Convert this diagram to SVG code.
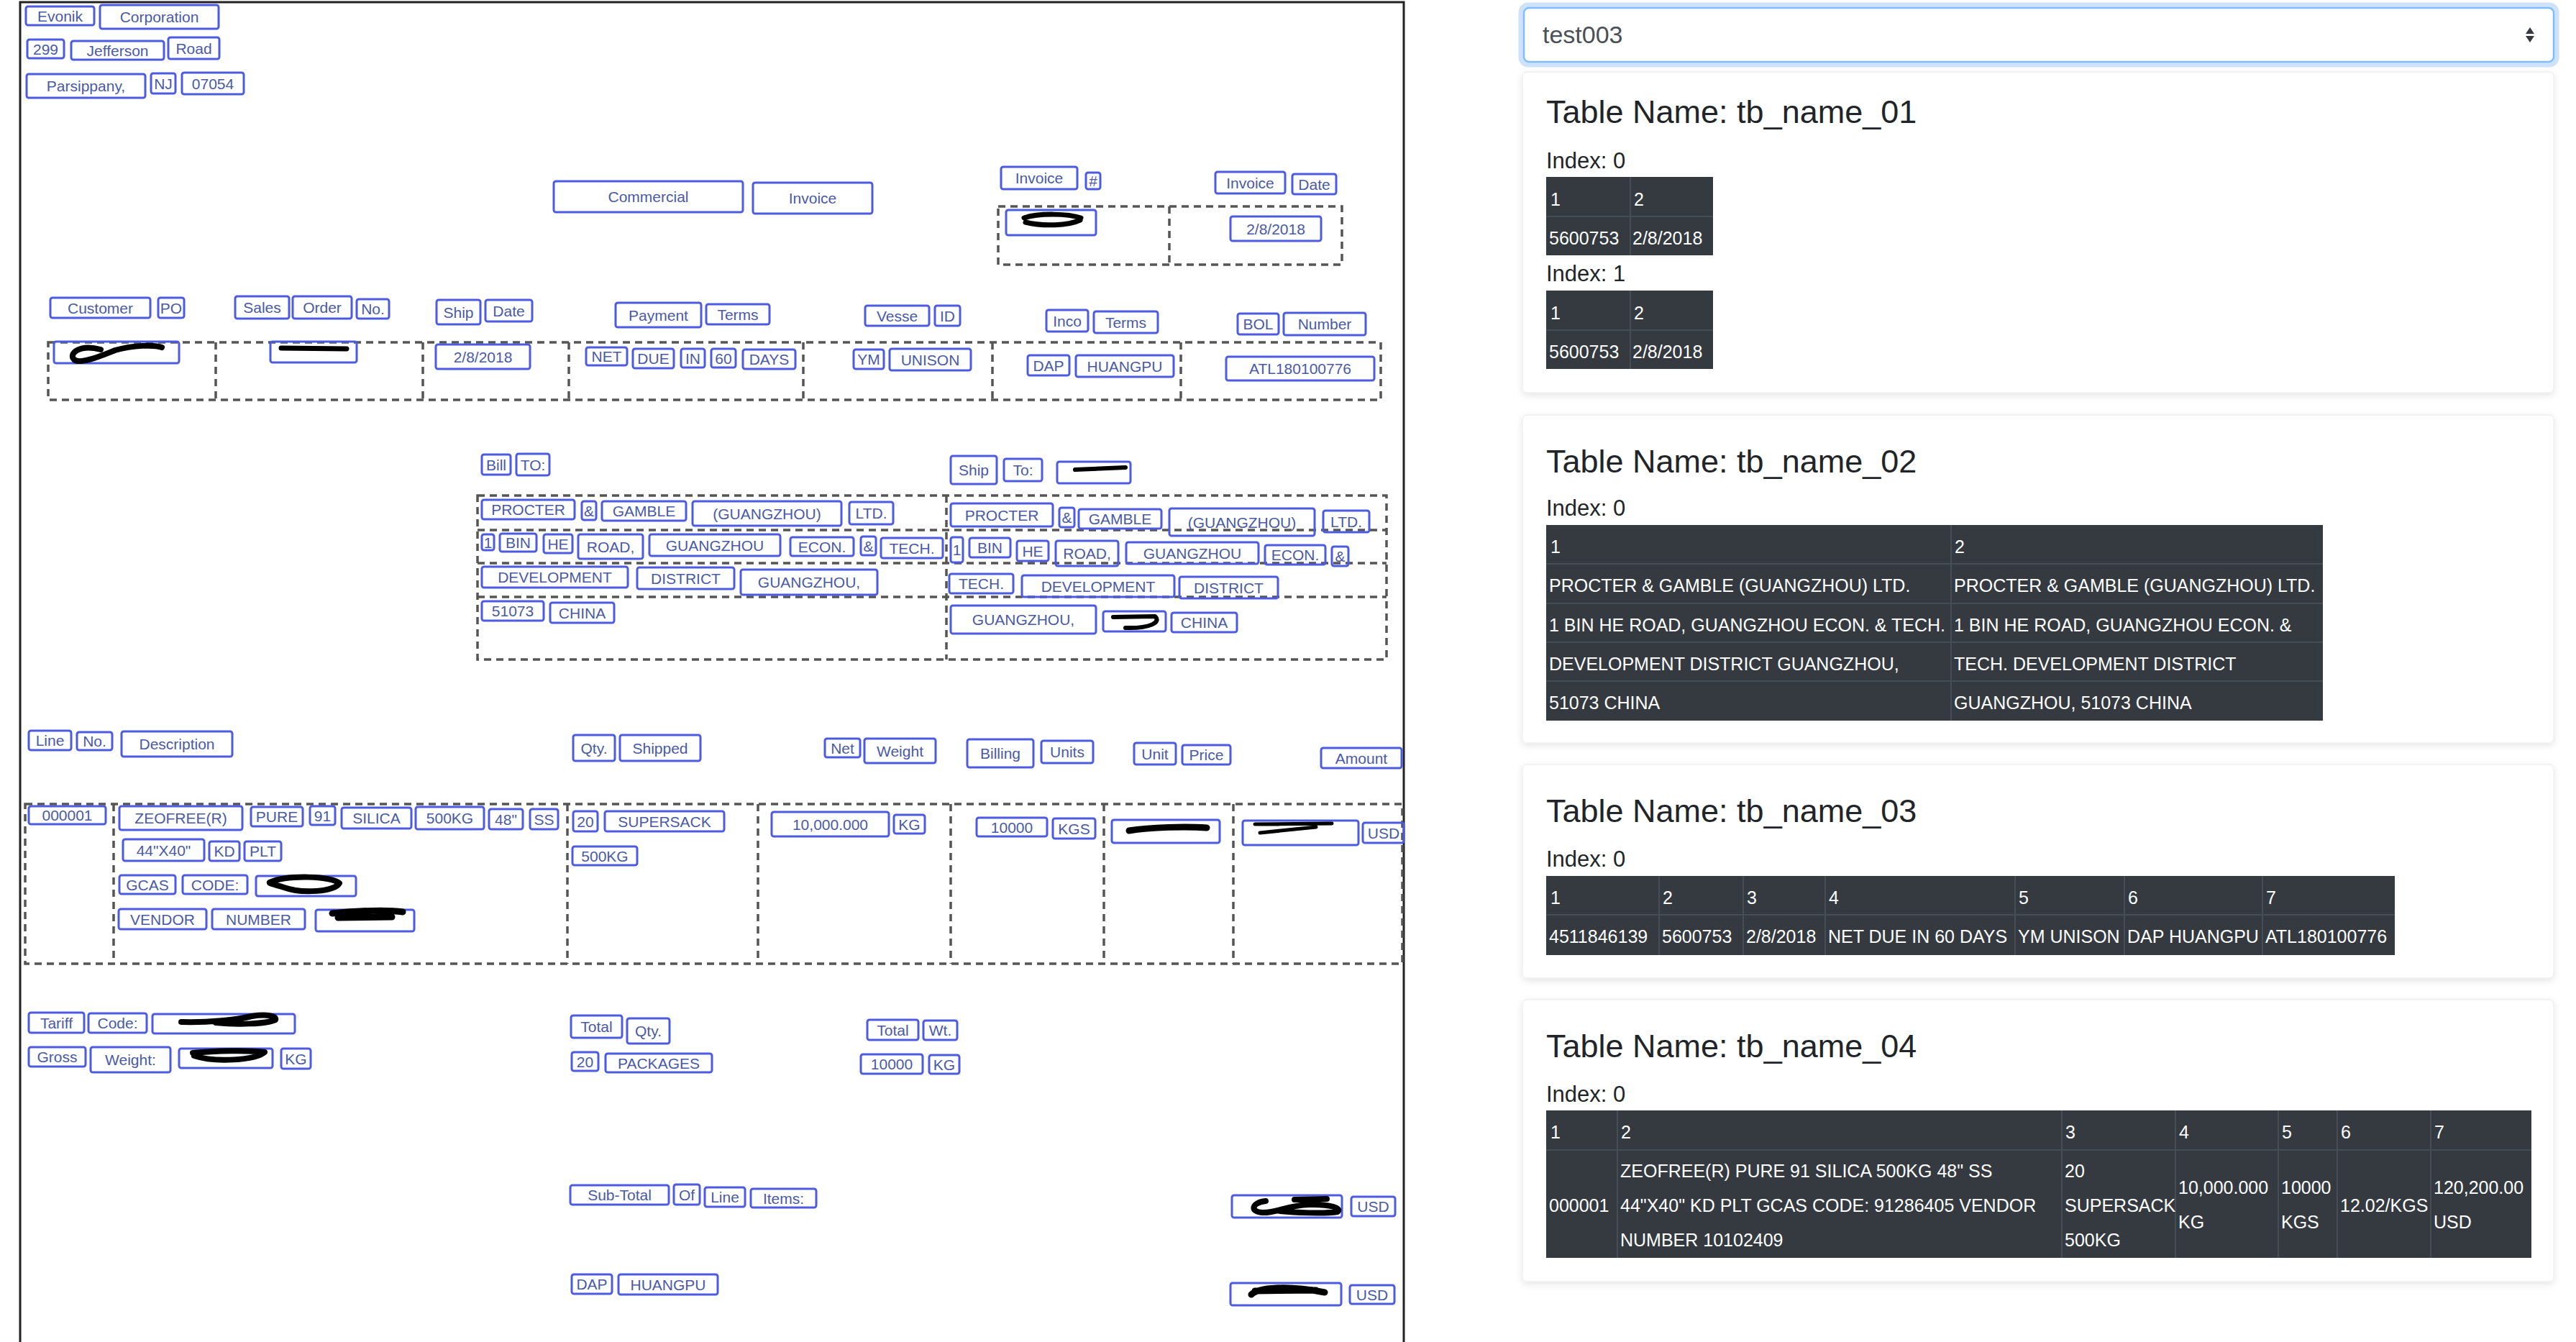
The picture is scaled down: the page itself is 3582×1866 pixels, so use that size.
<svg xmlns="http://www.w3.org/2000/svg" width="3582" height="1866" viewBox="0 0 3582 1866">
<style>
.bx{fill:none;stroke:#4d5be0;stroke-width:3;}
.t{font-family:"Liberation Sans",Arial,sans-serif;font-size:21px;fill:#4a5aa6;text-anchor:middle;dominant-baseline:central;}
.dash{fill:none;stroke:#555555;stroke-width:3.5;stroke-dasharray:10 7;}
.rd{fill:none;stroke:#000;stroke-linecap:round;stroke-linejoin:round;}
.tbl{fill:#343a40;}
.tl{stroke:#454d55;stroke-width:2;}
.tt{font-family:"Liberation Sans",Arial,sans-serif;font-size:25px;fill:#ffffff;}
.h3{font-family:"Liberation Sans",Arial,sans-serif;font-size:45px;fill:#212529;}
.ix{font-family:"Liberation Sans",Arial,sans-serif;font-size:31px;fill:#212529;}
.card{fill:#ffffff;stroke:#f0f0f0;stroke-width:1.5;}
</style>
<defs>
<filter id="sh" x="-5%" y="-10%" width="110%" height="125%">
<feDropShadow dx="0" dy="3" stdDeviation="5" flood-color="#000" flood-opacity="0.10"/>
</filter>
</defs>
<rect x="0" y="0" width="3582" height="1866" fill="#ffffff"/>

<!-- left document image frame -->
<path d="M28,1866 V3 H1952 V1866" fill="none" stroke="#222" stroke-width="3"/>

<!-- dashed table regions -->
<g id="regions">
<rect class="dash" x="1388" y="287" width="478" height="81"/>
<line class="dash" x1="1626" y1="287" x2="1626" y2="368"/>
<rect class="dash" x="67" y="476" width="1853" height="80"/>
<line class="dash" x1="300" y1="476" x2="300" y2="556"/>
<line class="dash" x1="588" y1="476" x2="588" y2="556"/>
<line class="dash" x1="791" y1="476" x2="791" y2="556"/>
<line class="dash" x1="1117" y1="476" x2="1117" y2="556"/>
<line class="dash" x1="1380" y1="476" x2="1380" y2="556"/>
<line class="dash" x1="1642" y1="476" x2="1642" y2="556"/>
<rect class="dash" x="664" y="689" width="1264" height="228"/>
<line class="dash" x1="664" y1="737" x2="1928" y2="737"/>
<line class="dash" x1="664" y1="783" x2="1928" y2="783"/>
<line class="dash" x1="664" y1="830" x2="1928" y2="830"/>
<line class="dash" x1="1316" y1="689" x2="1316" y2="917"/>
<rect class="dash" x="35" y="1118" width="1915" height="222"/>
<line class="dash" x1="158" y1="1118" x2="158" y2="1340"/>
<line class="dash" x1="789" y1="1118" x2="789" y2="1340"/>
<line class="dash" x1="1054" y1="1118" x2="1054" y2="1340"/>
<line class="dash" x1="1322" y1="1118" x2="1322" y2="1340"/>
<line class="dash" x1="1535" y1="1118" x2="1535" y2="1340"/>
<line class="dash" x1="1715" y1="1118" x2="1715" y2="1340"/>
</g>

<!-- header boxes -->
<g id="b001"><rect class="bx" x="36" y="9" width="95" height="26" rx="3"/><text class="t" x="83.5" y="22">Evonik</text></g>
<g id="b002"><rect class="bx" x="139" y="7" width="165" height="33" rx="3"/><text class="t" x="221.5" y="23.5">Corporation</text></g>
<g id="b003"><rect class="bx" x="38" y="55" width="51" height="26" rx="3"/><text class="t" x="63.5" y="68">299</text></g>
<g id="b004"><rect class="bx" x="99" y="57" width="129" height="26" rx="3"/><text class="t" x="163.5" y="70">Jefferson</text></g>
<g id="b005"><rect class="bx" x="234" y="52" width="71" height="30" rx="3"/><text class="t" x="269.5" y="67">Road</text></g>
<g id="b006"><rect class="bx" x="37" y="103" width="165" height="33" rx="3"/><text class="t" x="119.5" y="119.5">Parsippany,</text></g>
<g id="b007"><rect class="bx" x="210" y="102" width="34" height="28" rx="3"/><text class="t" x="227" y="116">NJ</text></g>
<g id="b008"><rect class="bx" x="253" y="101" width="86" height="30" rx="3"/><text class="t" x="296" y="116">07054</text></g>
<g id="b009"><rect class="bx" x="770" y="252" width="263" height="43" rx="3"/><text class="t" x="901.5" y="273.5">Commercial</text></g>
<g id="b010"><rect class="bx" x="1047" y="254" width="166" height="43" rx="3"/><text class="t" x="1130" y="275.5">Invoice</text></g>
<g id="b011"><rect class="bx" x="1392" y="232" width="106" height="31" rx="3"/><text class="t" x="1445" y="247.5">Invoice</text></g>
<g id="b012"><rect class="bx" x="1510" y="240" width="20" height="23" rx="3"/><text class="t" x="1520" y="251.5">#</text></g>
<g id="b013"><rect class="bx" x="1690" y="239" width="97" height="30" rx="3"/><text class="t" x="1738.5" y="254">Invoice</text></g>
<g id="b014"><rect class="bx" x="1797" y="242" width="61" height="28" rx="3"/><text class="t" x="1827.5" y="256">Date</text></g>
<g id="b015"><rect class="bx" x="1399" y="292" width="125" height="35" rx="3"/><path class="rd" stroke-width="7" d="M1424,303 C1445,296 1485,297 1503,303 M1426,309 C1450,315 1485,314 1502,306"/></g>
<g id="b016"><rect class="bx" x="1711" y="301" width="126" height="34" rx="3"/><text class="t" x="1774" y="318">2/8/2018</text></g>

<!-- order info labels -->
<g id="b017"><rect class="bx" x="70" y="414" width="139" height="28" rx="3"/><text class="t" x="139.5" y="428">Customer</text></g>
<g id="b018"><rect class="bx" x="220" y="414" width="36" height="28" rx="3"/><text class="t" x="238" y="428">PO</text></g>
<g id="b019"><rect class="bx" x="327" y="412" width="75" height="31" rx="3"/><text class="t" x="364.5" y="427.5">Sales</text></g>
<g id="b020"><rect class="bx" x="407" y="412" width="82" height="31" rx="3"/><text class="t" x="448" y="427.5">Order</text></g>
<g id="b021"><rect class="bx" x="496" y="416" width="45" height="27" rx="3"/><text class="t" x="518.5" y="429.5">No.</text></g>
<g id="b022"><rect class="bx" x="607" y="417" width="61" height="34" rx="3"/><text class="t" x="637.5" y="434">Ship</text></g>
<g id="b023"><rect class="bx" x="675" y="417" width="65" height="30" rx="3"/><text class="t" x="707.5" y="432">Date</text></g>
<g id="b024"><rect class="bx" x="856" y="421" width="119" height="34" rx="3"/><text class="t" x="915.5" y="438">Payment</text></g>
<g id="b025"><rect class="bx" x="982" y="423" width="88" height="28" rx="3"/><text class="t" x="1026" y="437">Terms</text></g>
<g id="b026"><rect class="bx" x="1203" y="425" width="89" height="28" rx="3"/><text class="t" x="1247.5" y="439">Vesse</text></g>
<g id="b027"><rect class="bx" x="1300" y="425" width="35" height="28" rx="3"/><text class="t" x="1317.5" y="439">ID</text></g>
<g id="b028"><rect class="bx" x="1455" y="431" width="58" height="30" rx="3"/><text class="t" x="1484" y="446">Inco</text></g>
<g id="b029"><rect class="bx" x="1521" y="433" width="89" height="30" rx="3"/><text class="t" x="1565.5" y="448">Terms</text></g>
<g id="b030"><rect class="bx" x="1721" y="436" width="57" height="29" rx="3"/><text class="t" x="1749.5" y="450.5">BOL</text></g>
<g id="b031"><rect class="bx" x="1785" y="435" width="114" height="31" rx="3"/><text class="t" x="1842" y="450.5">Number</text></g>

<!-- order info values -->
<g id="b032"><rect class="bx" x="75" y="475" width="174" height="30" rx="3"/><path class="rd" stroke-width="8" d="M140,486 C110,478 95,492 103,500 C112,507 140,495 160,487 C185,480 215,479 225,483"/></g>
<g id="b033"><rect class="bx" x="376" y="475" width="120" height="29" rx="3"/><path class="rd" stroke-width="7" d="M391,484 L482,485"/></g>
<g id="b034"><rect class="bx" x="606" y="479" width="131" height="34" rx="3"/><text class="t" x="671.5" y="496">2/8/2018</text></g>
<g id="b035"><rect class="bx" x="815" y="483" width="57" height="25" rx="3"/><text class="t" x="843.5" y="495.5">NET</text></g>
<g id="b036"><rect class="bx" x="880" y="485" width="57" height="27" rx="3"/><text class="t" x="908.5" y="498.5">DUE</text></g>
<g id="b037"><rect class="bx" x="947" y="485" width="33" height="26" rx="3"/><text class="t" x="963.5" y="498">IN</text></g>
<g id="b038"><rect class="bx" x="989" y="485" width="34" height="26" rx="3"/><text class="t" x="1006" y="498">60</text></g>
<g id="b039"><rect class="bx" x="1033" y="486" width="73" height="27" rx="3"/><text class="t" x="1069.5" y="499.5">DAYS</text></g>
<g id="b040"><rect class="bx" x="1187" y="486" width="42" height="27" rx="3"/><text class="t" x="1208" y="499.5">YM</text></g>
<g id="b041"><rect class="bx" x="1237" y="485" width="113" height="30" rx="3"/><text class="t" x="1293.5" y="500">UNISON</text></g>
<g id="b042"><rect class="bx" x="1429" y="494" width="58" height="28" rx="3"/><text class="t" x="1458" y="508">DAP</text></g>
<g id="b043"><rect class="bx" x="1496" y="494" width="136" height="30" rx="3"/><text class="t" x="1564" y="509">HUANGPU</text></g>
<g id="b044"><rect class="bx" x="1705" y="496" width="206" height="33" rx="3"/><text class="t" x="1808" y="512.5">ATL180100776</text></g>

<!-- bill to / ship to -->
<g id="b045"><rect class="bx" x="670" y="632" width="40" height="28" rx="3"/><text class="t" x="690" y="646">Bill</text></g>
<g id="b046"><rect class="bx" x="718" y="631" width="46" height="30" rx="3"/><text class="t" x="741" y="646">TO:</text></g>
<g id="b047"><rect class="bx" x="1322" y="634" width="64" height="39" rx="3"/><text class="t" x="1354" y="653.5">Ship</text></g>
<g id="b048"><rect class="bx" x="1396" y="638" width="53" height="31" rx="3"/><text class="t" x="1422.5" y="653.5">To:</text></g>
<g id="b049"><rect class="bx" x="1470" y="642" width="102" height="30" rx="3"/><path class="rd" stroke-width="6" d="M1495,653 L1565,650"/></g>

<g id="b050"><rect class="bx" x="670" y="695" width="129" height="27" rx="3"/><text class="t" x="734.5" y="708.5">PROCTER</text></g>
<g id="b051"><rect class="bx" x="809" y="697" width="20" height="26" rx="3"/><text class="t" x="819" y="710">&amp;</text></g>
<g id="b052"><rect class="bx" x="837" y="697" width="117" height="27" rx="3"/><text class="t" x="895.5" y="710.5">GAMBLE</text></g>
<g id="b053"><rect class="bx" x="963" y="697" width="207" height="34" rx="3"/><text class="t" x="1066.5" y="714">(GUANGZHOU)</text></g>
<g id="b054"><rect class="bx" x="1181" y="698" width="61" height="31" rx="3"/><text class="t" x="1211.5" y="713.5">LTD.</text></g>
<g id="b055"><rect class="bx" x="670" y="743" width="17" height="22" rx="3"/><text class="t" x="678.5" y="754">1</text></g>
<g id="b056"><rect class="bx" x="695" y="742" width="51" height="25" rx="3"/><text class="t" x="720.5" y="754.5">BIN</text></g>
<g id="b057"><rect class="bx" x="756" y="743" width="40" height="26" rx="3"/><text class="t" x="776" y="756">HE</text></g>
<g id="b058"><rect class="bx" x="804" y="743" width="90" height="34" rx="3"/><text class="t" x="849" y="760">ROAD,</text></g>
<g id="b059"><rect class="bx" x="903" y="743" width="182" height="30" rx="3"/><text class="t" x="994" y="758">GUANGZHOU</text></g>
<g id="b060"><rect class="bx" x="1099" y="747" width="88" height="26" rx="3"/><text class="t" x="1143" y="760">ECON.</text></g>
<g id="b061"><rect class="bx" x="1197" y="746" width="21" height="26" rx="3"/><text class="t" x="1207.5" y="759">&amp;</text></g>
<g id="b062"><rect class="bx" x="1225" y="748" width="86" height="28" rx="3"/><text class="t" x="1268" y="762">TECH.</text></g>
<g id="b063"><rect class="bx" x="670" y="788" width="203" height="29" rx="3"/><text class="t" x="771.5" y="802.5">DEVELOPMENT</text></g>
<g id="b064"><rect class="bx" x="886" y="789" width="135" height="30" rx="3"/><text class="t" x="953.5" y="804">DISTRICT</text></g>
<g id="b065"><rect class="bx" x="1030" y="792" width="190" height="35" rx="3"/><text class="t" x="1125" y="809.5">GUANGZHOU,</text></g>
<g id="b066"><rect class="bx" x="670" y="836" width="86" height="27" rx="3"/><text class="t" x="713" y="849.5">51073</text></g>
<g id="b067"><rect class="bx" x="765" y="838" width="89" height="28" rx="3"/><text class="t" x="809.5" y="852">CHINA</text></g>

<g id="b068"><rect class="bx" x="1322" y="700" width="142" height="32" rx="3"/><text class="t" x="1393" y="716">PROCTER</text></g>
<g id="b069"><rect class="bx" x="1473" y="706" width="21" height="27" rx="3"/><text class="t" x="1483.5" y="719.5">&amp;</text></g>
<g id="b070"><rect class="bx" x="1500" y="708" width="115" height="27" rx="3"/><text class="t" x="1557.5" y="721.5">GAMBLE</text></g>
<g id="b071"><rect class="bx" x="1626" y="707" width="202" height="38" rx="3"/><text class="t" x="1727" y="726">(GUANGZHOU)</text></g>
<g id="b072"><rect class="bx" x="1840" y="710" width="64" height="30" rx="3"/><text class="t" x="1872" y="725">LTD.</text></g>
<g id="b073"><rect class="bx" x="1322" y="747" width="17" height="35" rx="3"/><text class="t" x="1330.5" y="764.5">1</text></g>
<g id="b074"><rect class="bx" x="1348" y="748" width="57" height="27" rx="3"/><text class="t" x="1376.5" y="761.5">BIN</text></g>
<g id="b075"><rect class="bx" x="1414" y="752" width="44" height="28" rx="3"/><text class="t" x="1436" y="766">HE</text></g>
<g id="b076"><rect class="bx" x="1468" y="752" width="87" height="35" rx="3"/><text class="t" x="1511.5" y="769.5">ROAD,</text></g>
<g id="b077"><rect class="bx" x="1566" y="754" width="184" height="30" rx="3"/><text class="t" x="1658" y="769">GUANGZHOU</text></g>
<g id="b078"><rect class="bx" x="1759" y="758" width="84" height="27" rx="3"/><text class="t" x="1801" y="771.5">ECON.</text></g>
<g id="b079"><rect class="bx" x="1852" y="760" width="23" height="27" rx="3"/><text class="t" x="1863.5" y="773.5">&amp;</text></g>
<g id="b080"><rect class="bx" x="1320" y="798" width="89" height="27" rx="3"/><text class="t" x="1364.5" y="811.5">TECH.</text></g>
<g id="b081"><rect class="bx" x="1421" y="800" width="212" height="30" rx="3"/><text class="t" x="1527" y="815">DEVELOPMENT</text></g>
<g id="b082"><rect class="bx" x="1640" y="802" width="137" height="30" rx="3"/><text class="t" x="1708.5" y="817">DISTRICT</text></g>
<g id="b083"><rect class="bx" x="1322" y="842" width="202" height="39" rx="3"/><text class="t" x="1423" y="861.5">GUANGZHOU,</text></g>
<g id="b084"><rect class="bx" x="1534" y="850" width="87" height="28" rx="3"/><path class="rd" stroke-width="6" d="M1548,858 L1606,857 C1615,865 1600,874 1565,873"/></g>
<g id="b085"><rect class="bx" x="1629" y="852" width="91" height="27" rx="3"/><text class="t" x="1674.5" y="865.5">CHINA</text></g>

<!-- line item headings -->
<g id="b086"><rect class="bx" x="40" y="1016" width="59" height="27" rx="3"/><text class="t" x="69.5" y="1029.5">Line</text></g>
<g id="b087"><rect class="bx" x="107" y="1018" width="49" height="25" rx="3"/><text class="t" x="131.5" y="1030.5">No.</text></g>
<g id="b088"><rect class="bx" x="169" y="1017" width="154" height="35" rx="3"/><text class="t" x="246" y="1034.5">Description</text></g>
<g id="b089"><rect class="bx" x="797" y="1022" width="58" height="36" rx="3"/><text class="t" x="826" y="1040">Qty.</text></g>
<g id="b090"><rect class="bx" x="862" y="1022" width="112" height="36" rx="3"/><text class="t" x="918" y="1040">Shipped</text></g>
<g id="b091"><rect class="bx" x="1147" y="1027" width="49" height="26" rx="3"/><text class="t" x="1171.5" y="1040">Net</text></g>
<g id="b092"><rect class="bx" x="1202" y="1027" width="99" height="34" rx="3"/><text class="t" x="1251.5" y="1044">Weight</text></g>
<g id="b093"><rect class="bx" x="1345" y="1028" width="92" height="39" rx="3"/><text class="t" x="1391" y="1047.5">Billing</text></g>
<g id="b094"><rect class="bx" x="1448" y="1030" width="72" height="31" rx="3"/><text class="t" x="1484" y="1045.5">Units</text></g>
<g id="b095"><rect class="bx" x="1577" y="1033" width="58" height="30" rx="3"/><text class="t" x="1606" y="1048">Unit</text></g>
<g id="b096"><rect class="bx" x="1644" y="1036" width="67" height="27" rx="3"/><text class="t" x="1677.5" y="1049.5">Price</text></g>
<g id="b097"><rect class="bx" x="1837" y="1040" width="112" height="28" rx="3"/><text class="t" x="1893" y="1054">Amount</text></g>

<!-- line item values -->
<g id="b098"><rect class="bx" x="40" y="1121" width="107" height="25" rx="3"/><text class="t" x="93.5" y="1133.5">000001</text></g>
<g id="b099"><rect class="bx" x="166" y="1121" width="171" height="33" rx="3"/><text class="t" x="251.5" y="1137.5">ZEOFREE(R)</text></g>
<g id="b100"><rect class="bx" x="349" y="1122" width="72" height="27" rx="3"/><text class="t" x="385" y="1135.5">PURE</text></g>
<g id="b101"><rect class="bx" x="431" y="1121" width="35" height="26" rx="3"/><text class="t" x="448.5" y="1134">91</text></g>
<g id="b102"><rect class="bx" x="475" y="1123" width="97" height="29" rx="3"/><text class="t" x="523.5" y="1137.5">SILICA</text></g>
<g id="b103"><rect class="bx" x="578" y="1122" width="95" height="31" rx="3"/><text class="t" x="625.5" y="1137.5">500KG</text></g>
<g id="b104"><rect class="bx" x="680" y="1125" width="47" height="28" rx="3"/><text class="t" x="703.5" y="1139">48"</text></g>
<g id="b105"><rect class="bx" x="737" y="1125" width="39" height="28" rx="3"/><text class="t" x="756.5" y="1139">SS</text></g>
<g id="b106"><rect class="bx" x="797" y="1128" width="34" height="28" rx="3"/><text class="t" x="814" y="1142">20</text></g>
<g id="b107"><rect class="bx" x="841" y="1128" width="166" height="28" rx="3"/><text class="t" x="924" y="1142">SUPERSACK</text></g>
<g id="b108"><rect class="bx" x="171" y="1167" width="113" height="30" rx="3"/><text class="t" x="227.5" y="1182">44"X40"</text></g>
<g id="b109"><rect class="bx" x="291" y="1170" width="42" height="27" rx="3"/><text class="t" x="312" y="1183.5">KD</text></g>
<g id="b110"><rect class="bx" x="340" y="1170" width="51" height="27" rx="3"/><text class="t" x="365.5" y="1183.5">PLT</text></g>
<g id="b111"><rect class="bx" x="166" y="1217" width="78" height="26" rx="3"/><text class="t" x="205" y="1230">GCAS</text></g>
<g id="b112"><rect class="bx" x="254" y="1217" width="90" height="26" rx="3"/><text class="t" x="299" y="1230">CODE:</text></g>
<g id="b113"><rect class="bx" x="356" y="1218" width="139" height="28" rx="3"/><path class="rd" stroke-width="8" d="M375,1227 C400,1216 460,1218 472,1228 C465,1240 420,1243 395,1234 C382,1230 373,1228 375,1227"/></g>
<g id="b114"><rect class="bx" x="165" y="1264" width="122" height="28" rx="3"/><text class="t" x="226" y="1278">VENDOR</text></g>
<g id="b115"><rect class="bx" x="295" y="1264" width="129" height="28" rx="3"/><text class="t" x="359.5" y="1278">NUMBER</text></g>
<g id="b116"><rect class="bx" x="439" y="1265" width="137" height="30" rx="3"/><path class="rd" stroke-width="9" d="M462,1270 C500,1266 540,1265 560,1268 M470,1276 L545,1275"/></g>
<g id="b117"><rect class="bx" x="796" y="1177" width="90" height="26" rx="3"/><text class="t" x="841" y="1190">500KG</text></g>
<g id="b118"><rect class="bx" x="1073" y="1129" width="163" height="34" rx="3"/><text class="t" x="1154.5" y="1146">10,000.000</text></g>
<g id="b119"><rect class="bx" x="1243" y="1133" width="43" height="26" rx="3"/><text class="t" x="1264.5" y="1146">KG</text></g>
<g id="b120"><rect class="bx" x="1358" y="1137" width="98" height="26" rx="3"/><text class="t" x="1407" y="1150">10000</text></g>
<g id="b121"><rect class="bx" x="1464" y="1138" width="59" height="28" rx="3"/><text class="t" x="1493.5" y="1152">KGS</text></g>
<g id="b122"><rect class="bx" x="1546" y="1140" width="150" height="32" rx="3"/><path class="rd" stroke-width="9" d="M1570,1155 C1600,1150 1650,1149 1678,1151"/></g>
<g id="b123"><rect class="bx" x="1728" y="1141" width="161" height="34" rx="3"/><path class="rd" stroke-width="5" d="M1745,1146 L1852,1145 M1752,1158 L1830,1150"/></g>
<g id="b124"><rect class="bx" x="1895" y="1144" width="57" height="28" rx="3"/><text class="t" x="1924" y="1158">USD</text></g>

<!-- totals -->
<g id="b125"><rect class="bx" x="40" y="1408" width="77" height="28" rx="3"/><text class="t" x="78.5" y="1422">Tariff</text></g>
<g id="b126"><rect class="bx" x="123" y="1409" width="81" height="27" rx="3"/><text class="t" x="163.5" y="1422.5">Code:</text></g>
<g id="b127"><rect class="bx" x="212" y="1410" width="198" height="27" rx="3"/><path class="rd" stroke-width="8" d="M252,1421 C290,1422 330,1418 350,1413 C370,1410 385,1412 383,1418 C370,1424 330,1425 300,1422"/></g>
<g id="b128"><rect class="bx" x="40" y="1456" width="79" height="27" rx="3"/><text class="t" x="79.5" y="1469.5">Gross</text></g>
<g id="b129"><rect class="bx" x="126" y="1456" width="111" height="35" rx="3"/><text class="t" x="181.5" y="1473.5">Weight:</text></g>
<g id="b130"><rect class="bx" x="249" y="1458" width="130" height="27" rx="3"/><path class="rd" stroke-width="8" d="M268,1464 C300,1461 345,1460 368,1463 C355,1474 300,1478 270,1468"/></g>
<g id="b131"><rect class="bx" x="391" y="1458" width="41" height="28" rx="3"/><text class="t" x="411.5" y="1472">KG</text></g>
<g id="b132"><rect class="bx" x="794" y="1412" width="71" height="31" rx="3"/><text class="t" x="829.5" y="1427.5">Total</text></g>
<g id="b133"><rect class="bx" x="872" y="1416" width="59" height="35" rx="3"/><text class="t" x="901.5" y="1433.5">Qty.</text></g>
<g id="b134"><rect class="bx" x="795" y="1463" width="37" height="26" rx="3"/><text class="t" x="813.5" y="1476">20</text></g>
<g id="b135"><rect class="bx" x="842" y="1465" width="148" height="26" rx="3"/><text class="t" x="916" y="1478">PACKAGES</text></g>
<g id="b136"><rect class="bx" x="1206" y="1418" width="71" height="28" rx="3"/><text class="t" x="1241.5" y="1432">Total</text></g>
<g id="b137"><rect class="bx" x="1284" y="1419" width="47" height="27" rx="3"/><text class="t" x="1307.5" y="1432.5">Wt.</text></g>
<g id="b138"><rect class="bx" x="1197" y="1466" width="86" height="27" rx="3"/><text class="t" x="1240" y="1479.5">10000</text></g>
<g id="b139"><rect class="bx" x="1292" y="1467" width="42" height="26" rx="3"/><text class="t" x="1313" y="1480">KG</text></g>
<g id="b140"><rect class="bx" x="793" y="1648" width="137" height="27" rx="3"/><text class="t" x="861.5" y="1661.5">Sub-Total</text></g>
<g id="b141"><rect class="bx" x="937" y="1647" width="36" height="28" rx="3"/><text class="t" x="955" y="1661">Of</text></g>
<g id="b142"><rect class="bx" x="980" y="1651" width="56" height="27" rx="3"/><text class="t" x="1008" y="1664.5">Line</text></g>
<g id="b143"><rect class="bx" x="1044" y="1653" width="91" height="26" rx="3"/><text class="t" x="1089.5" y="1666">Items:</text></g>
<g id="b144"><rect class="bx" x="1713" y="1662" width="153" height="31" rx="3"/><path class="rd" stroke-width="8" d="M1760,1670 C1740,1672 1738,1685 1755,1686 C1775,1687 1790,1676 1820,1675 C1850,1674 1866,1680 1860,1685 C1840,1688 1800,1686 1780,1684 M1800,1668 L1845,1667"/></g>
<g id="b145"><rect class="bx" x="1879" y="1664" width="61" height="27" rx="3"/><text class="t" x="1909.5" y="1677.5">USD</text></g>
<g id="b146"><rect class="bx" x="795" y="1772" width="56" height="27" rx="3"/><text class="t" x="823" y="1785.5">DAP</text></g>
<g id="b147"><rect class="bx" x="860" y="1772" width="138" height="28" rx="3"/><text class="t" x="929" y="1786">HUANGPU</text></g>
<g id="b148"><rect class="bx" x="1711" y="1784" width="154" height="31" rx="3"/><path class="rd" stroke-width="9" d="M1740,1800 C1750,1790 1790,1787 1842,1797 M1745,1795 L1830,1794"/></g>
<g id="b149"><rect class="bx" x="1877" y="1787" width="62" height="26" rx="3"/><text class="t" x="1908" y="1800">USD</text></g>

<!-- right panel: selector -->
<g id="select">
<rect x="2115" y="7" width="1440" height="83" rx="10" fill="none" stroke="#cfe2fc" stroke-width="7"/>
<rect x="2119" y="11" width="1432" height="75" rx="7" fill="#ffffff" stroke="#80bdff" stroke-width="2.5"/>
<text x="2145" y="60" font-family="Liberation Sans, Arial, sans-serif" font-size="34" fill="#495057">test003</text>
<path d="M3512,47 L3518,38 L3524,47 Z M3512,50 L3524,50 L3518,59 Z" fill="#343a40"/>
</g>

<!-- card 1 -->
<g id="card1">
<rect class="card" x="2117" y="100" width="1434" height="446" rx="6" filter="url(#sh)"/>
<text class="h3" x="2150" y="171">Table Name: tb_name_01</text>
<text class="ix" x="2150" y="234">Index: 0</text>
<rect class="tbl" x="2150" y="246" width="232" height="109"/>
<line class="tl" x1="2150" y1="301" x2="2382" y2="301"/>
<line class="tl" x1="2267" y1="246" x2="2267" y2="355"/>
<text class="tt" x="2156" y="286">1</text><text class="tt" x="2272" y="286">2</text>
<text class="tt" x="2154" y="340">5600753</text><text class="tt" x="2270" y="340">2/8/2018</text>
<text class="ix" x="2150" y="391">Index: 1</text>
<rect class="tbl" x="2150" y="404" width="232" height="109"/>
<line class="tl" x1="2150" y1="459" x2="2382" y2="459"/>
<line class="tl" x1="2267" y1="404" x2="2267" y2="513"/>
<text class="tt" x="2156" y="444">1</text><text class="tt" x="2272" y="444">2</text>
<text class="tt" x="2154" y="498">5600753</text><text class="tt" x="2270" y="498">2/8/2018</text>
</g>

<!-- card 2 -->
<g id="card2">
<rect class="card" x="2117" y="577" width="1434" height="456" rx="6" filter="url(#sh)"/>
<text class="h3" x="2150" y="657">Table Name: tb_name_02</text>
<text class="ix" x="2150" y="717">Index: 0</text>
<rect class="tbl" x="2150" y="730" width="1080" height="272"/>
<line class="tl" x1="2150" y1="784" x2="3230" y2="784"/>
<line class="tl" x1="2150" y1="839" x2="3230" y2="839"/>
<line class="tl" x1="2150" y1="893" x2="3230" y2="893"/>
<line class="tl" x1="2150" y1="947" x2="3230" y2="947"/>
<line class="tl" x1="2713" y1="730" x2="2713" y2="1002"/>
<text class="tt" x="2156" y="769">1</text><text class="tt" x="2718" y="769">2</text>
<text class="tt" x="2154" y="823">PROCTER &amp; GAMBLE (GUANGZHOU) LTD.</text>
<text class="tt" x="2717" y="823">PROCTER &amp; GAMBLE (GUANGZHOU) LTD.</text>
<text class="tt" x="2154" y="878">1 BIN HE ROAD, GUANGZHOU ECON. &amp; TECH.</text>
<text class="tt" x="2717" y="878">1 BIN HE ROAD, GUANGZHOU ECON. &amp;</text>
<text class="tt" x="2154" y="932">DEVELOPMENT DISTRICT GUANGZHOU,</text>
<text class="tt" x="2717" y="932">TECH. DEVELOPMENT DISTRICT</text>
<text class="tt" x="2154" y="986">51073 CHINA</text>
<text class="tt" x="2717" y="986">GUANGZHOU, 51073 CHINA</text>
</g>

<!-- card 3 -->
<g id="card3">
<rect class="card" x="2117" y="1063" width="1434" height="297" rx="6" filter="url(#sh)"/>
<text class="h3" x="2150" y="1143">Table Name: tb_name_03</text>
<text class="ix" x="2150" y="1205">Index: 0</text>
<rect class="tbl" x="2150" y="1218" width="1180" height="110"/>
<line class="tl" x1="2150" y1="1272" x2="3330" y2="1272"/>
<line class="tl" x1="2307" y1="1218" x2="2307" y2="1328"/>
<line class="tl" x1="2424" y1="1218" x2="2424" y2="1328"/>
<line class="tl" x1="2538" y1="1218" x2="2538" y2="1328"/>
<line class="tl" x1="2802" y1="1218" x2="2802" y2="1328"/>
<line class="tl" x1="2954" y1="1218" x2="2954" y2="1328"/>
<line class="tl" x1="3146" y1="1218" x2="3146" y2="1328"/>
<text class="tt" x="2156" y="1257">1</text><text class="tt" x="2312" y="1257">2</text><text class="tt" x="2429" y="1257">3</text><text class="tt" x="2543" y="1257">4</text><text class="tt" x="2807" y="1257">5</text><text class="tt" x="2959" y="1257">6</text><text class="tt" x="3151" y="1257">7</text>
<text class="tt" x="2154" y="1311">4511846139</text>
<text class="tt" x="2311" y="1311">5600753</text>
<text class="tt" x="2428" y="1311">2/8/2018</text>
<text class="tt" x="2542" y="1311">NET DUE IN 60 DAYS</text>
<text class="tt" x="2806" y="1311">YM UNISON</text>
<text class="tt" x="2958" y="1311">DAP HUANGPU</text>
<text class="tt" x="3150" y="1311">ATL180100776</text>
</g>

<!-- card 4 -->
<g id="card4">
<rect class="card" x="2117" y="1390" width="1434" height="392" rx="6" filter="url(#sh)"/>
<text class="h3" x="2150" y="1470">Table Name: tb_name_04</text>
<text class="ix" x="2150" y="1532">Index: 0</text>
<rect class="tbl" x="2150" y="1544" width="1370" height="205"/>
<line class="tl" x1="2150" y1="1599" x2="3520" y2="1599"/>
<line class="tl" x1="2249" y1="1544" x2="2249" y2="1749"/>
<line class="tl" x1="2867" y1="1544" x2="2867" y2="1749"/>
<line class="tl" x1="3025" y1="1544" x2="3025" y2="1749"/>
<line class="tl" x1="3168" y1="1544" x2="3168" y2="1749"/>
<line class="tl" x1="3250" y1="1544" x2="3250" y2="1749"/>
<line class="tl" x1="3380" y1="1544" x2="3380" y2="1749"/>
<text class="tt" x="2156" y="1583">1</text><text class="tt" x="2254" y="1583">2</text><text class="tt" x="2872" y="1583">3</text><text class="tt" x="3030" y="1583">4</text><text class="tt" x="3173" y="1583">5</text><text class="tt" x="3255" y="1583">6</text><text class="tt" x="3385" y="1583">7</text>
<text class="tt" x="2154" y="1685">000001</text>
<text class="tt" x="2253" y="1637">ZEOFREE(R) PURE 91 SILICA 500KG 48" SS</text>
<text class="tt" x="2253" y="1685">44"X40" KD PLT GCAS CODE: 91286405 VENDOR</text>
<text class="tt" x="2253" y="1733">NUMBER 10102409</text>
<text class="tt" x="2871" y="1637">20</text>
<text class="tt" x="2871" y="1685">SUPERSACK</text>
<text class="tt" x="2871" y="1733">500KG</text>
<text class="tt" x="3029" y="1660">10,000.000</text>
<text class="tt" x="3029" y="1708">KG</text>
<text class="tt" x="3172" y="1660">10000</text>
<text class="tt" x="3172" y="1708">KGS</text>
<text class="tt" x="3254" y="1685">12.02/KGS</text>
<text class="tt" x="3384" y="1660">120,200.00</text>
<text class="tt" x="3384" y="1708">USD</text>
</g>
</svg>
